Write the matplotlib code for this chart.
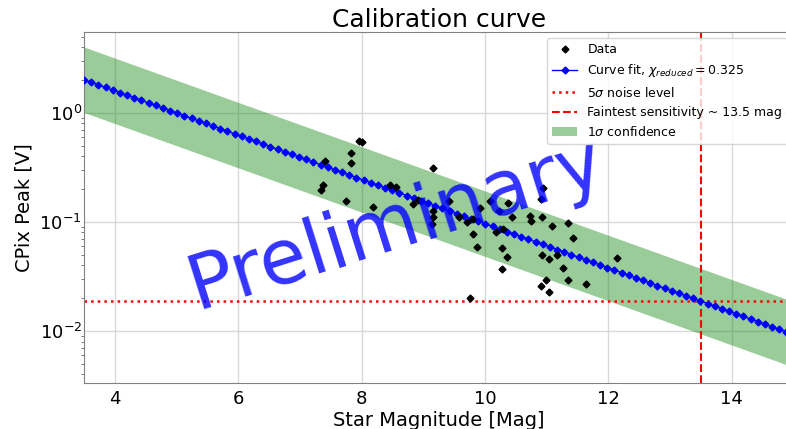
import numpy as np
import matplotlib
matplotlib.use("Agg")
import matplotlib.pyplot as plt

# Measured data points (magnitude, peak voltage)
mag = [7.96, 8.00, 7.825, 7.825, 7.41, 7.376, 7.335, 7.74, 8.18, 8.457,
       8.55, 9.16, 8.835, 8.91, 9.16, 9.16, 9.14, 9.41, 9.91, 9.575,
       9.70, 9.80, 9.80, 9.87, 9.755, 10.086, 10.378, 10.23, 10.17, 10.29,
       10.28, 10.35, 10.28, 10.94, 10.90, 10.44, 10.73, 10.74, 10.93, 11.35,
       11.08, 11.42, 10.93, 11.03, 11.16, 11.27, 11.35, 11.64, 10.985, 10.90,
       11.04, 12.13]
peak = [0.553, 0.542, 0.427, 0.343, 0.364, 0.216, 0.197, 0.157, 0.138, 0.216,
        0.211, 0.311, 0.145, 0.159, 0.125, 0.110, 0.0959, 0.157, 0.134, 0.112,
        0.1006, 0.1066, 0.0771, 0.0593, 0.0200, 0.156, 0.1485, 0.127, 0.080, 0.0857,
        0.0581, 0.0474, 0.0368, 0.204, 0.161, 0.110, 0.114, 0.103, 0.110, 0.0985,
        0.0919, 0.0709, 0.0493, 0.0455, 0.0493, 0.0376, 0.0294, 0.0270, 0.0294, 0.0259,
        0.0226, 0.0468]

# Fit parameters: log10(V) = fit_a + fit_b * mag
fit_a = 1.0135
fit_b = -0.203
band_dex = 0.30          # 1 sigma confidence half-width in dex
chi_red = 0.325
noise_level = 0.0188     # 5 sigma noise level [V]
faintest_mag = 13.5

fit_x = np.linspace(3.5, 15, 100)
fit_y = 10 ** (fit_a + fit_b * fit_x)

fig = plt.figure(figsize=(7.86, 4.29), dpi=100)
ax = fig.add_axes([84/786, 46/429, 709.6/786, 351/429])

ax.fill_between(fit_x, fit_y / 10**band_dex, fit_y * 10**band_dex,
                color='green', alpha=0.4, linewidth=0, label=r'1$\sigma$ confidence', zorder=1)
ax.plot(mag, peak, 'D', color='black', markersize=3.5, linestyle='none', label='Data', zorder=4)
ax.plot(fit_x, fit_y, '-D', color='blue', markersize=3.5, linewidth=1,
        label=r'Curve fit, $\chi_{reduced} = %.3f$' % chi_red, zorder=3)
ax.axhline(noise_level, color='red', linestyle=':', linewidth=1.8, label=r'5$\sigma$ noise level', zorder=2)
ax.axvline(faintest_mag, color='red', linestyle='--', linewidth=1.5,
           label='Faintest sensitivity ~ %.1f mag' % faintest_mag, zorder=2)

ax.set_yscale('log')
ax.set_xlim(3.5, 15)
ax.set_ylim(0.00334, 5.5)
ax.set_xticks([4, 6, 8, 10, 12, 14])
ax.grid(True, which='major', color='0.85', linewidth=1)
ax.set_axisbelow(True)
for s in ax.spines.values():
    s.set_color('0.5')
ax.tick_params(axis='x', which='major', labelsize=13, labelcolor='black', length=0, pad=5)
ax.tick_params(axis='y', which='major', labelsize=13, labelcolor='black', length=0, pad=1.5)
ax.tick_params(axis='y', which='minor', length=2.5, color='0.4')

ax.set_xlabel('Star Magnitude [Mag]', fontsize=14, labelpad=2)
ax.set_ylabel('CPix Peak [V]', fontsize=14, labelpad=4)
ax.set_title('Calibration curve', fontsize=18, pad=3)

h, l = ax.get_legend_handles_labels()
order = [1, 2, 3, 4, 0]
ax.legend([h[i] for i in order], [l[i] for i in order], loc='upper right', fontsize=9)

ax.text(0.44, 0.45, 'Preliminary', transform=ax.transAxes, fontsize=55,
        color='blue', alpha=0.8, rotation=17.5, ha='center', va='center', zorder=5)

fig.savefig('out.png', dpi=100)
